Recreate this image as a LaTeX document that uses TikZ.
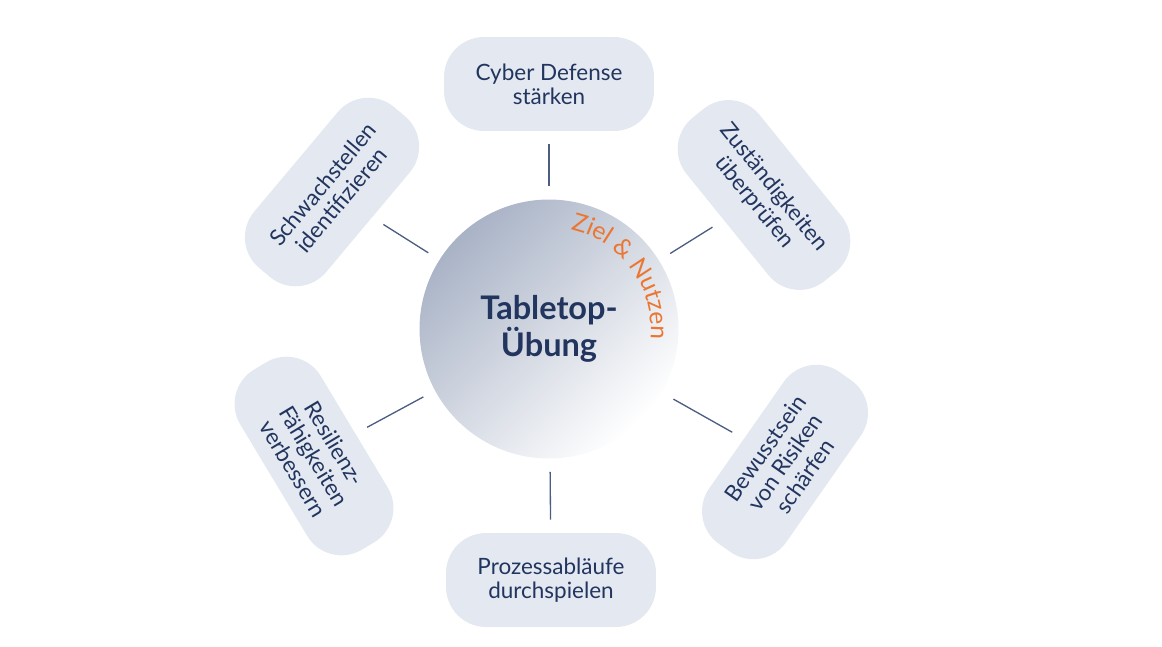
\documentclass[tikz,border=0pt]{standalone}
\usepackage{fontspec}
\setmainfont{Lato}
\usetikzlibrary{decorations.text}
\definecolor{navy}{HTML}{22355F}
\definecolor{pillfill}{HTML}{E4E9F1}
\definecolor{hubdark}{HTML}{A9B3C6}
\definecolor{accent}{HTML}{EC7631}
\definecolor{linkcol}{HTML}{4B5E82}

\begin{document}
\begin{tikzpicture}[x=0.02cm,y=-0.02cm,
  pill/.style={fill=pillfill,rounded corners=0.8cm,minimum width=4.2cm,minimum height=1.88cm,
    inner sep=0pt,align=center,text=navy,font=\fontsize{12.8}{13.8}\selectfont},
  link/.style={draw=linkcol,line width=0.75pt,shorten <=0.26cm,shorten >=0.26cm}]
\useasboundingbox (0,0) rectangle (1162,646);
\node[circle,minimum size=5.18cm,inner sep=0pt,top color=hubdark,bottom color=white,shading angle=45,
  align=center,text=navy,font=\fontsize{18.5}{19}\selectfont\bfseries] (hub) at (549,329) {Tabletop-\\Übung};
\node[pill] (cyber) at (549,84) {Cyber Defense\\stärken};
\node[pill,rotate=-51] (roles) at (764,195) {Zuständigkeiten\\überprüfen};
\node[pill,rotate=55] (risk) at (785,462) {Bewusstsein\\von Risiken\\schärfen};
\node[pill] (process) at (551,580) {Prozessabläufe\\durchspielen};
\node[pill,rotate=-59] (resil) at (314,456) {Resilienz-\\Fähigkeiten\\verbessern};
\node[pill,rotate=50] (weak) at (332,192) {Schwachstellen\\identifizieren};
\draw[link] (hub) -- (cyber);
\draw[link] (hub) -- (roles);
\draw[link] (hub) -- (risk);
\draw[link] (hub) -- (process);
\draw[link] (hub) -- (resil);
\draw[link] (hub) -- (weak);
% label on the arc
\path[decorate,decoration={text along path,text align=center,
  text={|\fontsize{14}{14}\selectfont\color{accent}|Ziel {\&} Nutzen}}]
  (hub.center) ++(0,-102) arc[start angle=-90,end angle=18,radius=102];
\end{tikzpicture}
\end{document}
